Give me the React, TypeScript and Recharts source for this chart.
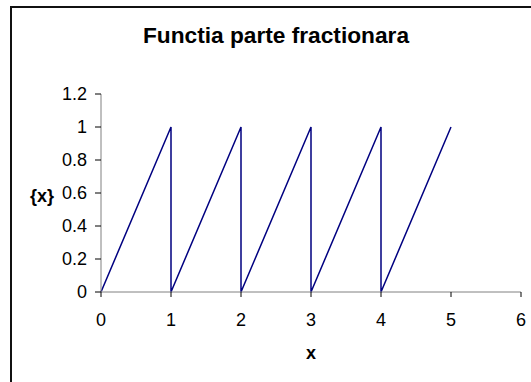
import React from 'react';
import { LineChart, Line, XAxis, YAxis, Label } from 'recharts';

// sawtooth points of the fractional part {x}
const xValues = [0, 1, 1, 2, 2, 3, 3, 4, 4, 5];
const fracValues = [0, 1, 0, 1, 0, 1, 0, 1, 0, 1];
const xTicks = [0, 1, 2, 3, 4, 5, 6];
const yTicks = [0, 0.2, 0.4, 0.6, 0.8, 1, 1.2];

const data = xValues.map((x, i) => ({ x, fx: fracValues[i] }));

const FONT = 'Arial, "Liberation Sans", sans-serif';
const AXIS_COLOR = '#808080';

const App: React.FC = () => {
  return (
    <div style={{ position: 'absolute', left: 0, top: 0, width: 531, height: 382, overflow: 'hidden', background: '#fff' }}>
      {/* chart border, runs off the right and bottom edge */}
      <div style={{ position: 'absolute', left: 10, top: 6, width: 560, height: 420, border: '2px solid #111', boxSizing: 'border-box' }} />
      <div
        style={{
          position: 'absolute', left: 0, top: 22, width: 552, textAlign: 'center',
          fontFamily: FONT, fontWeight: 'bold', fontSize: 22.7, lineHeight: '26px', color: '#000',
        }}
      >
        Functia parte fractionara
      </div>
      <div style={{ position: 'absolute', left: 0, top: 0 }}>
        <LineChart width={531} height={382} data={data} margin={{ top: 94, right: 10, bottom: 30, left: 0 }}>
          <XAxis
            dataKey="x"
            type="number"
            domain={[0, 6]}
            ticks={xTicks}
            interval={0}
            height={60}
            stroke={AXIS_COLOR}
            tickSize={5}
            tickMargin={16}
            tick={{ fill: '#000', fontSize: 18, fontFamily: FONT }}
            tickLine={{ stroke: '#000' }}
          >
            <Label
              content={({ viewBox }: any) => (
                <text
                  x={viewBox.x + viewBox.width / 2}
                  y={viewBox.y + 67}
                  textAnchor="middle"
                  fontFamily={FONT}
                  fontWeight="bold"
                  fontSize={18}
                  fill="#000"
                >
                  x
                </text>
              )}
            />
          </XAxis>
          <YAxis
            dataKey="fx"
            type="number"
            domain={[0, 1.2]}
            ticks={yTicks}
            interval={0}
            width={101}
            stroke={AXIS_COLOR}
            tickSize={6}
            tickMargin={8}
            tick={{ fill: '#000', fontSize: 18, fontFamily: FONT }}
            tickLine={{ stroke: '#000' }}
          >
            <Label
              content={({ viewBox }: any) => (
                <text
                  x={30}
                  y={viewBox.y + viewBox.height / 2 + 9}
                  textAnchor="start"
                  fontFamily={FONT}
                  fontWeight="bold"
                  fontSize={18}
                  fill="#000"
                >
                  {'{x}'}
                </text>
              )}
            />
          </YAxis>
          <Line
            type="linear"
            dataKey="fx"
            stroke="#000080"
            strokeWidth={1.5}
            dot={false}
            isAnimationActive={false}
          />
        </LineChart>
      </div>
    </div>
  );
};

export default App;
